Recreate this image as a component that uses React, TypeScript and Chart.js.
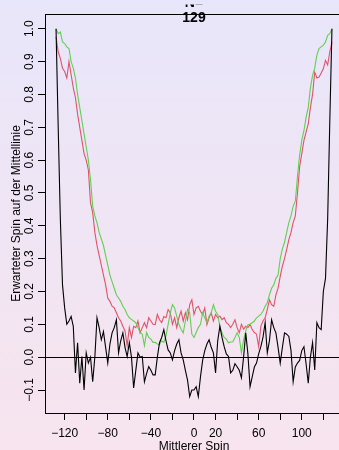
import React, { useEffect, useRef } from "react";
import { Chart, registerables } from "chart.js";

Chart.register(...registerables);

// ---------- data ----------
const MEAN_SPIN = [
  -128, -126, -124, -122, -120, -118, -116, -114,
  -112, -110, -108, -106, -104, -102, -100, -98,
  -96, -94, -92, -90, -88, -86, -84, -82,
  -80, -78, -76, -74, -72, -70, -68, -66,
  -64, -62, -60, -58, -56, -54, -52, -50,
  -48, -46, -44, -42, -40, -38, -36, -34,
  -32, -30, -28, -26, -24, -22, -20, -18,
  -16, -14, -12, -10, -8, -6, -4, -2,
  0, 2, 4, 6, 8, 10, 12, 14,
  16, 18, 20, 22, 24, 26, 28, 30,
  32, 34, 36, 38, 40, 42, 44, 46,
  48, 50, 52, 54, 56, 58, 60, 62,
  64, 66, 68, 70, 72, 74, 76, 78,
  80, 82, 84, 86, 88, 90, 92, 94,
  96, 98, 100, 102, 104, 106, 108, 110,
  112, 114, 116, 118, 120, 122, 124, 126,
  128,
];

const BLACK_SERIES = [
  1.0, 0.7, 0.42, 0.22, 0.15, 0.1, 0.11, 0.124,
  0.094, -0.048, 0.044, -0.079, 0.002, -0.1, 0.013, -0.018,
  0.0, -0.075, 0.0, 0.12, 0.09, 0.053, 0.078, 0.03,
  -0.018, 0.04, 0.074, 0.09, 0.114, 0.013, 0.05, 0.074,
  0.03, 0.002, 0.044, 0.0, -0.094, -0.04, 0.013, 0.0,
  0.002, -0.075, -0.05, -0.029, -0.04, -0.054, -0.054, 0.0,
  0.044, 0.06, 0.084, 0.05, 0.022, 0.013, -0.008, 0.02,
  0.04, 0.053, 0.013, -0.008, -0.04, -0.07, -0.12, -0.1,
  -0.1, -0.09, -0.12, -0.06, -0.01, 0.02, 0.04, 0.053,
  0.03, 0.013, -0.048, 0.05, 0.094, 0.06, 0.032, 0.01,
  0.002, -0.048, -0.04, -0.02, -0.029, -0.04, -0.063, 0.0,
  0.074, 0.01, -0.09, -0.06, -0.03, -0.018, 0.01, 0.032,
  0.06, 0.105, 0.013, 0.05, 0.114, 0.09, 0.074, 0.03,
  -0.018, 0.03, 0.074, 0.07, 0.063, 0.02, -0.075, -0.03,
  -0.018, -0.01, 0.02, 0.032, -0.02, -0.079, 0.0, 0.044,
  -0.039, 0.105, 0.09, 0.084, 0.2, 0.24, 0.42, 0.72,
  1.0,
];

const RED_SERIES = [
  0.975, 0.93, 0.91, 0.88, 0.87, 0.85, 0.9, 0.86,
  0.82, 0.79, 0.74, 0.7, 0.66, 0.62, 0.6, 0.57,
  0.47, 0.44, 0.38, 0.34, 0.31, 0.28, 0.25, 0.22,
  0.18, 0.17, 0.155, 0.15, 0.135, 0.12, 0.11, 0.094,
  0.08, 0.035, 0.09, 0.06, 0.094, 0.09, 0.11, 0.074,
  0.09, 0.105, 0.09, 0.12, 0.11, 0.1, 0.099, 0.13,
  0.114, 0.105, 0.124, 0.12, 0.145, 0.135, 0.1, 0.12,
  0.09, 0.12, 0.14, 0.11, 0.135, 0.114, 0.16, 0.175,
  0.13, 0.15, 0.155, 0.14, 0.13, 0.15, 0.099, 0.12,
  0.135, 0.11, 0.13, 0.12, 0.125, 0.114, 0.12, 0.105,
  0.1, 0.09, 0.1, 0.114, 0.09, 0.074, 0.1, 0.085,
  0.094, 0.09, 0.1, 0.084, 0.075, 0.07, 0.032, 0.094,
  0.11, 0.12, 0.145, 0.175, 0.16, 0.155, 0.19, 0.21,
  0.246, 0.277, 0.3, 0.328, 0.358, 0.38, 0.41, 0.43,
  0.5, 0.58, 0.62, 0.66, 0.685, 0.71, 0.76, 0.8,
  0.868, 0.85, 0.853, 0.865, 0.878, 0.904, 0.89, 0.93,
  0.96,
];

const GREEN_SERIES = [
  1.0, 0.985, 0.99, 0.96, 0.955, 0.945, 0.94, 0.9,
  0.88, 0.85, 0.8, 0.76, 0.72, 0.68, 0.64, 0.6,
  0.54, 0.46, 0.43, 0.41, 0.38, 0.36, 0.34, 0.31,
  0.28, 0.25, 0.23, 0.21, 0.19, 0.18, 0.17, 0.155,
  0.145, 0.13, 0.12, 0.115, 0.11, 0.105, 0.09, 0.075,
  0.07, 0.035, 0.075, 0.06, 0.055, 0.045, 0.045, 0.04,
  0.038, 0.05, 0.045, 0.065, 0.1, 0.135, 0.16, 0.15,
  0.124, 0.1, 0.085, 0.074, 0.11, 0.145, 0.135, 0.07,
  0.06, 0.075, 0.09, 0.1, 0.135, 0.12, 0.105, 0.125,
  0.135, 0.16, 0.14, 0.13, 0.094, 0.074, 0.06, 0.055,
  0.044, 0.046, 0.047, 0.06, 0.074, 0.06, 0.013, 0.053,
  0.08, 0.099, 0.1, 0.105, 0.11, 0.12, 0.125, 0.13,
  0.14, 0.155, 0.166, 0.19, 0.21, 0.22, 0.24, 0.25,
  0.3, 0.33, 0.35, 0.38, 0.41, 0.43, 0.46, 0.475,
  0.55, 0.615, 0.66, 0.69, 0.73, 0.76, 0.82, 0.858,
  0.88, 0.92, 0.94, 0.945, 0.95, 0.96, 0.98, 0.985,
  1.0,
];

const X_TICKS = [-120, -100, -80, -60, -40, -20, 0, 20, 40, 60, 80, 100, 120];
const X_TICK_LABELS = [-120, -80, -40, 0, 20, 60, 100];
const Y_TICKS = [-0.1, 0, 0.1, 0.2, 0.3, 0.4, 0.5, 0.6, 0.7, 0.8, 0.9, 1.0];
const Y_TICK_LABELS = ["\u22120.1", "0.0", "0.1", "0.2", "0.3", "0.4", "0.5", "0.6", "0.7", "0.8", "0.9", "1.0"];

const TITLE_TOP = "N=";
const TITLE_BOTTOM = "129";
const X_TITLE = "Mittlerer Spin";
const Y_TITLE = "Erwarteter Spin auf der Mittellinie";

const X_MIN = -138.24;
const X_MAX = 134.53;
const Y_MIN = -0.17;
const Y_MAX = 1.045;

const FONT = '"Liberation Sans", Arial, Helvetica, sans-serif';

function fmtX(v: number): string {
  return v < 0 ? "\u2212" + String(-v) : String(v);
}

const rPlotPlugin = {
  id: "rPlot",
  afterDraw(chart: any) {
    const { ctx, chartArea, scales } = chart;
    const xs = scales.x;
    const ys = scales.y;
    ctx.save();
    // top border of the box
    ctx.strokeStyle = "#000";
    ctx.lineWidth = 1;
    ctx.beginPath();
    ctx.moveTo(chartArea.left, Math.round(chartArea.top) + 0.5);
    ctx.lineTo(chartArea.right + 5, Math.round(chartArea.top) + 0.5);
    ctx.stroke();

    ctx.fillStyle = "#000";
    // x tick labels
    ctx.font = "12px " + FONT;
    ctx.textAlign = "center";
    ctx.textBaseline = "alphabetic";
    X_TICK_LABELS.forEach((v) => {
      ctx.fillText(fmtX(v), xs.getPixelForValue(v), chartArea.bottom + 23.5);
    });
    // y tick labels (rotated)
    Y_TICKS.forEach((v, i) => {
      ctx.save();
      ctx.translate(chartArea.left - 12.5, ys.getPixelForValue(v));
      ctx.rotate(-Math.PI / 2);
      ctx.fillText(Y_TICK_LABELS[i], 0, 0);
      ctx.restore();
    });
    const cx = xs.getPixelForValue(0);
    // x title
    ctx.fillText(X_TITLE, cx, chartArea.bottom + 37);
    // y title
    ctx.save();
    ctx.translate(chartArea.left - 25.5, (chartArea.top + chartArea.bottom) / 2);
    ctx.rotate(-Math.PI / 2);
    ctx.fillText(Y_TITLE, 0, 0);
    ctx.restore();
    // main title (upper line is cut off at the top edge in the original)
    ctx.font = "bold 14px " + FONT;
    ctx.save();
    ctx.beginPath();
    ctx.rect(0, chartArea.top - 9.6, chart.width, 9.6);
    ctx.clip();
    ctx.fillText(TITLE_TOP, cx, chartArea.top - 7.2);
    ctx.restore();
    ctx.fillText(TITLE_BOTTOM, cx, chartArea.top + 8);
    ctx.restore();
  },
};

function toPoints(ys: number[]) {
  return MEAN_SPIN.map((x, i) => ({ x, y: ys[i] }));
}

export default function App() {
  const canvasRef = useRef<HTMLCanvasElement | null>(null);

  useEffect(() => {
    const canvas = canvasRef.current;
    if (!canvas) return;
    const chart = new Chart(canvas, {
      type: "line",
      data: {
        datasets: [
          {
            label: "schwarz",
            data: toPoints(BLACK_SERIES),
            borderColor: "#000000",
            borderWidth: 1.1,
            pointRadius: 0,
            tension: 0,
            fill: false,
          },
          {
            label: "grün",
            data: toPoints(GREEN_SERIES),
            borderColor: "#61D04F",
            borderWidth: 1.1,
            pointRadius: 0,
            tension: 0,
            fill: false,
          },
          {
            label: "rot",
            data: toPoints(RED_SERIES),
            borderColor: "#DF536B",
            borderWidth: 1.1,
            pointRadius: 0,
            tension: 0,
            fill: false,
          },
        ],
      },
      options: {
        animation: false,
        responsive: false,
        maintainAspectRatio: false,
        devicePixelRatio: 1,
        layout: { padding: { top: 14, left: 0, right: 0, bottom: 0 } },
        plugins: {
          legend: { display: false },
          tooltip: { enabled: false },
          title: { display: false },
        },
        scales: {
          x: {
            type: "linear",
            min: X_MIN,
            max: X_MAX,
            afterBuildTicks: (scale: any) => {
              scale.ticks = X_TICKS.map((v) => ({ value: v }));
            },
            afterFit: (scale: any) => {
              scale.height = 37;
            },
            ticks: { display: false },
            grid: {
              display: true,
              drawOnChartArea: false,
              drawTicks: true,
              tickLength: 7,
              color: "#000",
              tickColor: "#000",
              lineWidth: 1,
            },
            border: { display: true, color: "#000", width: 1 },
            title: { display: false },
          },
          y: {
            type: "linear",
            min: Y_MIN,
            max: Y_MAX,
            afterBuildTicks: (scale: any) => {
              scale.ticks = Y_TICKS.map((v) => ({ value: v }));
            },
            afterFit: (scale: any) => {
              scale.width = 45;
            },
            ticks: { display: false },
            grid: {
              display: true,
              drawOnChartArea: true,
              drawTicks: true,
              tickLength: 7,
              color: (c: any) => (c.tick && c.tick.value === 0 ? "#000" : "rgba(0,0,0,0)"),
              tickColor: "#000",
              lineWidth: 1,
            },
            border: { display: true, color: "#000", width: 1 },
            title: { display: false },
          },
        },
      },
      plugins: [rPlotPlugin],
    });
    return () => chart.destroy();
  }, []);

  return (
    <div
      style={{
        position: "fixed",
        left: 0,
        top: 0,
        width: 339,
        height: 450,
        overflow: "hidden",
        background: "linear-gradient(to bottom, #E8E6FA 0%, #F7E4EE 100%)",
      }}
    >
      <canvas ref={canvasRef} width={339} height={450} style={{ display: "block", width: 339, height: 450 }} />
    </div>
  );
}
